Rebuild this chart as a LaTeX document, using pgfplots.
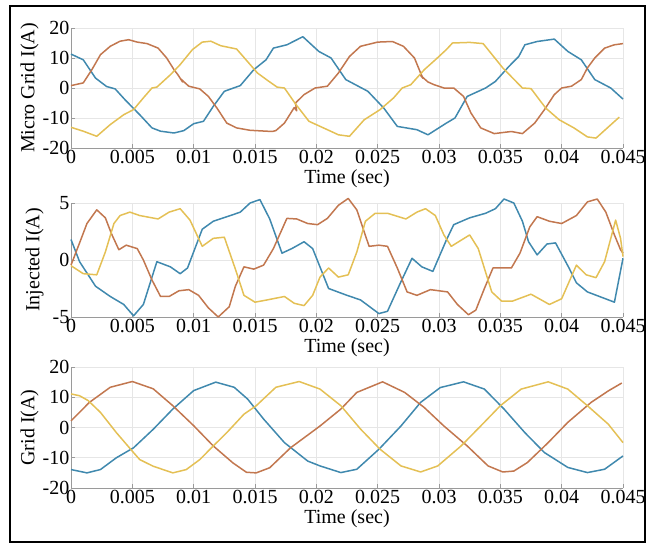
\documentclass[border=0pt]{standalone}
\usepackage{fontspec}
\setmainfont{Liberation Serif}
\usepackage{pgfplots}
\pgfplotsset{compat=1.18}
\definecolor{cblue}{HTML}{4089AE}
\definecolor{corange}{HTML}{C2774F}
\definecolor{cyellow}{HTML}{E4C055}
\definecolor{axgray}{HTML}{9A9A9A}
\definecolor{gridgray}{HTML}{E6E6E6}
\pgfplotsset{
  myax/.style={
    scale only axis, width=552pt, anchor=south west,
    xmin=0, xmax=0.045, scaled x ticks=false, scaled y ticks=false,
    axis x line*=bottom, axis y line*=left,
    axis line style={axgray, line width=0.9pt, -},
    tick style={axgray, line width=0.7pt}, tick align=inside,
    major tick length=4pt,
    grid=major, grid style={gridgray, line width=0.6pt},
    xtick={0,0.005,0.01,0.015,0.02,0.025,0.03,0.035,0.04,0.045},
    xticklabels={0,0.005,0.01,0.015,0.02,0.025,0.03,0.035,0.04,0.045},
    tick label style={font=\fontsize{20}{22}\selectfont, black},
    xticklabel style={inner sep=1pt, yshift=-1pt},
    yticklabel style={inner sep=1.5pt},
    label style={font=\fontsize{20}{22}\selectfont, black},
    xlabel={Time (sec)},
    xlabel style={yshift=-1pt},
    clip=false,
    every axis plot/.append style={line width=1.5pt, no marks, line join=round},
  }
}
\begin{document}
\begin{tikzpicture}
\path[use as bounding box] (0pt,0pt) rectangle (652pt,544pt);
\draw[line width=1.2pt] (10pt,2pt) rectangle (645pt,538pt);

% ---------------- Plot 1 ----------------
\begin{axis}[myax, at={(71pt,396pt)}, height=120pt,
  ymin=-20, ymax=20, ytick={-20,-10,0,10,20},
  yticklabels={-20,-10,0,10,20},
  ylabel={Micro Grid I(A)}, ylabel style={yshift=-1pt}]
\addplot[cblue] coordinates {(0,11.3)(0.001,9.4)(0.002,3.3)(0.0029,0.5)(0.0036,-0.3)(0.0044,-3.9)(0.0056,-8.9)(0.0066,-13.3)(0.0073,-14.4)(0.0084,-15)(0.0092,-14.2)(0.01,-11.9)(0.0108,-11.1)(0.0116,-6.1)(0.0125,-1.1)(0.0138,0.8)(0.0149,6.1)(0.0159,9.4)(0.0165,13.3)(0.0176,14.4)(0.0189,17.1)(0.0202,12.2)(0.0212,10)(0.0224,2.8)(0.0242,-1.1)(0.0255,-6.7)(0.0266,-12.8)(0.0282,-13.9)(0.0291,-15.6)(0.0306,-11.7)(0.0313,-10)(0.0323,-2.8)(0.0338,0)(0.0346,2.2)(0.0357,7.2)(0.0365,10.5)(0.037,14.4)(0.038,15.5)(0.0394,16.3)(0.0405,12.2)(0.0416,9.4)(0.0427,2.8)(0.044,0)(0.045,-3.7)};
\addplot[corange] coordinates {(0,0.8)(0.001,1.7)(0.0017,6.1)(0.0024,11.1)(0.0032,13.9)(0.004,15.6)(0.0047,16.1)(0.0054,15.3)(0.0062,14.8)(0.0071,13.3)(0.0078,10)(0.0084,6.1)(0.0087,4.5)(0.0091,2.0)(0.0089,3.2)(0.0096,0.6)(0.0105,-0.3)(0.0112,-2.8)(0.0119,-6.7)(0.0127,-11.7)(0.0135,-13.3)(0.0146,-14.1)(0.0164,-14.5)(0.0167,-14.2)(0.0174,-11.7)(0.0182,-6.5)(0.0184,-7.6)(0.0183,-5.0)(0.019,-2.2)(0.0199,0)(0.0209,0.6)(0.0218,5)(0.0227,10.5)(0.0236,13.9)(0.025,15.3)(0.0262,15.5)(0.0271,13.9)(0.028,10)(0.0285,5)(0.0287,3.2)(0.0285,4.2)(0.0291,2.0)(0.0296,1.1)(0.0304,0)(0.0312,0)(0.032,-2.8)(0.0326,-8.3)(0.0334,-13.3)(0.0345,-15.2)(0.0359,-14.5)(0.0368,-15.2)(0.0378,-11.7)(0.0386,-7.2)(0.0394,-2.2)(0.04,0)(0.0408,0.6)(0.0416,2.8)(0.0421,6.7)(0.0427,10)(0.0435,13.3)(0.0443,14.4)(0.045,14.8)};
\addplot[cyellow] coordinates {(0,-13.1)(0.001,-14.4)(0.0021,-16.1)(0.0032,-12.2)(0.0043,-8.9)(0.0051,-7.2)(0.0059,-3.3)(0.0066,0)(0.007,0.3)(0.0081,4.4)(0.0089,7.8)(0.0099,12.8)(0.0107,15.3)(0.0114,15.6)(0.0122,14.1)(0.0135,13)(0.0145,8.3)(0.0152,5)(0.016,2.6)(0.0168,0.3)(0.0174,0)(0.0183,-5.3)(0.0194,-11.1)(0.0209,-13.9)(0.0218,-15.6)(0.0227,-16.1)(0.0239,-10.6)(0.0252,-7.2)(0.0263,-3.3)(0.027,0)(0.0277,1.1)(0.0288,6.1)(0.0297,9.4)(0.0306,12.8)(0.0311,15)(0.0325,15.2)(0.0336,14.8)(0.0352,6.7)(0.0368,0)(0.0375,-0.2)(0.0387,-6.7)(0.0398,-10.6)(0.041,-13.3)(0.0421,-16.3)(0.0428,-16.7)(0.0447,-9.7)};
\end{axis}

% ---------------- Plot 2 ----------------
\begin{axis}[myax, at={(71pt,227pt)}, height=114pt,
  ymin=-5, ymax=5, ytick={-5,0,5},
  yticklabels={-5,0,5},
  ylabel={Injected I(A)}, ylabel style={yshift=4pt}]
\addplot[cblue] coordinates {(0,1.8)(0.0007,-0.15)(0.002,-2.3)(0.0032,-3.2)(0.0043,-3.9)(0.0051,-4.9)(0.0059,-3.9)(0.007,-0.15)(0.0081,-0.6)(0.0089,-1.2)(0.0095,-0.7)(0.0107,2.7)(0.0116,3.4)(0.013,3.9)(0.0138,4.2)(0.0146,5)(0.0154,5.3)(0.0162,3.6)(0.0172,0.6)(0.018,1.0)(0.019,1.6)(0.0197,1.0)(0.021,-2.5)(0.0225,-3.1)(0.0236,-3.5)(0.0251,-4.7)(0.0258,-4.5)(0.0269,-1.9)(0.0278,0.15)(0.0286,-0.6)(0.0295,-1.0)(0.0306,1.75)(0.0312,3.1)(0.0325,3.7)(0.0338,4.1)(0.0346,4.5)(0.0353,5.35)(0.0361,5.0)(0.0368,3.4)(0.0373,1.6)(0.038,0.45)(0.0388,1.4)(0.0395,1.5)(0.0406,-0.7)(0.0412,-2.0)(0.0421,-2.8)(0.0443,-3.7)(0.045,0.15)};
\addplot[corange] coordinates {(0,-0.45)(0.0007,1.5)(0.0013,3.2)(0.0021,4.4)(0.0028,3.7)(0.0033,2.3)(0.0039,0.9)(0.0045,1.3)(0.0054,1.0)(0.0059,0)(0.0066,-1.75)(0.0073,-3.2)(0.008,-3.2)(0.0088,-2.7)(0.0096,-2.6)(0.0104,-3.1)(0.0112,-4.2)(0.012,-5.0)(0.0129,-4.1)(0.0134,-2.3)(0.0141,-0.6)(0.0149,-0.8)(0.0157,-0.45)(0.0165,1.0)(0.0176,3.65)(0.0184,3.6)(0.0193,3.2)(0.0201,3.1)(0.0209,3.65)(0.0218,4.8)(0.0226,5.4)(0.0233,4.4)(0.0238,2.8)(0.0243,1.2)(0.0251,1.3)(0.0258,1.2)(0.0266,-0.7)(0.0274,-2.8)(0.0282,-3.1)(0.0293,-2.6)(0.0307,-2.8)(0.0315,-3.9)(0.0324,-4.8)(0.033,-4.4)(0.0337,-2.5)(0.0344,-0.7)(0.0359,-0.7)(0.0366,0.6)(0.0374,2.9)(0.038,3.8)(0.039,3.4)(0.04,3.2)(0.0412,3.9)(0.0421,5.1)(0.0429,5.35)(0.0436,4.2)(0.0443,2.2)(0.0448,0.9)(0.045,0.6)};
\addplot[cyellow] coordinates {(0,-0.5)(0.001,-1.2)(0.0021,-1.3)(0.0028,0.7)(0.0035,3.2)(0.004,3.9)(0.0048,4.2)(0.0056,3.9)(0.0071,3.6)(0.008,4.2)(0.0089,4.5)(0.0097,3.5)(0.0107,1.2)(0.0116,1.9)(0.0125,2.0)(0.0134,-0.8)(0.0141,-3.1)(0.015,-3.7)(0.016,-3.5)(0.0174,-3.2)(0.0182,-3.8)(0.019,-4.0)(0.0197,-3.1)(0.0203,-1.5)(0.021,-0.7)(0.0218,-1.5)(0.0226,-1.3)(0.0233,0.7)(0.024,3.4)(0.0248,4.1)(0.0258,4.1)(0.0273,3.6)(0.0282,4.2)(0.0289,4.5)(0.0297,3.9)(0.0304,2.2)(0.031,1.2)(0.0325,2.2)(0.0332,1.0)(0.0343,-2.8)(0.0351,-3.6)(0.036,-3.6)(0.0375,-3.0)(0.039,-3.9)(0.04,-3.4)(0.0412,-0.45)(0.042,-1.3)(0.0428,-1.55)(0.0435,-0.15)(0.0444,3.5)(0.0448,1.9)(0.045,0.3)};
\end{axis}

% ---------------- Plot 3 ----------------
\begin{axis}[myax, at={(71pt,56pt)}, height=121pt,
  ymin=-20, ymax=20, ytick={-20,-10,0,10,20},
  yticklabels={-20,-10,0,10,20},
  ylabel={Grid I(A)}, ylabel style={yshift=-1pt}]
\addplot[cblue] coordinates {(0,-13.9)(0.0013,-15)(0.0024,-13.9)(0.0037,-10)(0.0051,-6.7)(0.0067,-0.6)(0.0083,6.1)(0.01,12.2)(0.0118,15)(0.0133,13.3)(0.0144,9.4)(0.0157,2.8)(0.0174,-5)(0.0193,-11.1)(0.0203,-12.7)(0.022,-14.9)(0.0233,-13.8)(0.0251,-7.2)(0.0269,0.5)(0.0285,8.3)(0.0301,13.2)(0.032,15.1)(0.0337,12.7)(0.0353,6.1)(0.037,-1.7)(0.0386,-8.3)(0.0405,-13.2)(0.0421,-14.9)(0.0435,-13.8)(0.045,-9.4)};
\addplot[corange] coordinates {(0,2.2)(0.0015,8.3)(0.0032,13.3)(0.005,15.2)(0.0067,12.8)(0.0083,7.2)(0.01,0.6)(0.0116,-6.1)(0.0132,-11.7)(0.0143,-14.8)(0.0151,-15)(0.0162,-13.3)(0.0179,-6.7)(0.0203,0.5)(0.022,6.1)(0.0233,11.6)(0.0254,15.1)(0.0272,11.6)(0.0288,6.6)(0.0304,0.5)(0.0323,-6.1)(0.034,-12.7)(0.0352,-14.7)(0.0361,-14.4)(0.0372,-11.6)(0.0389,-5)(0.0405,1.7)(0.0424,8.3)(0.0438,12.1)(0.0449,14.7)};
\addplot[cyellow] coordinates {(0,11.1)(0.0007,10.5)(0.0014,8.9)(0.0024,5)(0.0037,-1.7)(0.0051,-8.3)(0.0056,-10.6)(0.0067,-12.8)(0.0083,-15)(0.0094,-13.9)(0.0105,-10.6)(0.0116,-6.1)(0.0127,-1.7)(0.0141,4.4)(0.0151,7.2)(0.0167,13.3)(0.0186,15.2)(0.0203,12.7)(0.022,7.2)(0.0236,-0.5)(0.0252,-7.2)(0.0269,-12.7)(0.0285,-14.7)(0.0299,-12.7)(0.0318,-6.1)(0.0334,0.5)(0.035,7.2)(0.0367,12.7)(0.0389,15.1)(0.0405,12.7)(0.0421,7.2)(0.0438,1.1)(0.045,-5)};
\end{axis}
\end{tikzpicture}
\end{document}
